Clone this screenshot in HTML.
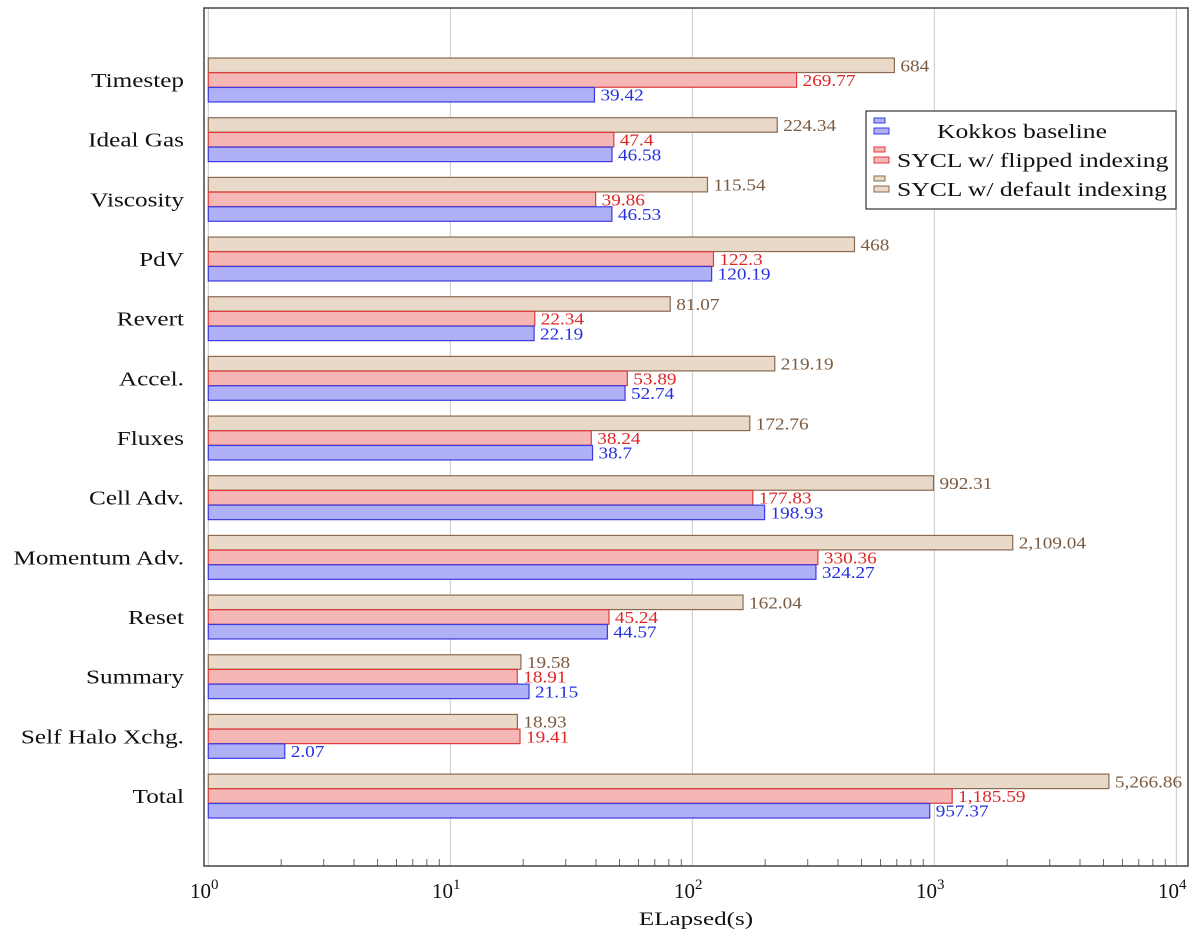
<!DOCTYPE html>
<html><head><meta charset="utf-8"><style>
body{margin:0;background:#fff;}
svg{display:block;font-family:"Liberation Serif",serif;}
</style></head><body>
<svg id="chart" width="1200" height="936"></svg>
<script>
const categories=["Timestep","Ideal Gas","Viscosity","PdV","Revert","Accel.","Fluxes","Cell Adv.","Momentum Adv.","Reset","Summary","Self Halo Xchg.","Total"];
const kokkos=[39.42,46.58,46.53,120.19,22.19,52.74,38.7,198.93,324.27,44.57,21.15,2.07,957.37];
const flipped=[269.77,47.4,39.86,122.3,22.34,53.89,38.24,177.83,330.36,45.24,18.91,19.41,1185.59];
const deflt=[684,224.34,115.54,468,81.07,219.19,172.76,992.31,2109.04,162.04,19.58,18.93,5266.86];
const xTicks=[0,1,2,3,4];
const NS="http://www.w3.org/2000/svg";
const svg=document.getElementById('chart');
const X0=208.3,DEC=242,L=204,R=1188,T=8,B=866;
const x=v=>X0+Math.log10(v)*DEC;
const rowY=i=>80+i*59.67;
function mk(tag,attrs,parent){const e=document.createElementNS(NS,tag);for(const k in attrs)e.setAttribute(k,attrs[k]);(parent||svg).appendChild(e);return e;}
function widen(t,f){const w=t.getComputedTextLength();t.setAttribute('textLength',w*f);t.setAttribute('lengthAdjust','spacingAndGlyphs');}
function fmt(v){return v.toLocaleString('en-US',{maximumFractionDigits:2});}
xTicks.forEach(t=>{const g=mk('line',{x1:x(10**t),x2:x(10**t),y1:T,y2:B,stroke:'#c8c8c8','stroke-width':1});

});
for(let d=0;d<4;d++)for(let m=2;m<10;m++){const xx=x(m*10**d);
const tk=mk('line',{x1:xx,x2:xx,y1:B,y2:B-7,stroke:'#444','stroke-width':0.8});

}
const series=[
 {name:'default',vals:deflt,fill:'#e8d9c9',stroke:'#8a6a50',tc:'#7a5a40',off:-14.7},
 {name:'flipped',vals:flipped,fill:'#f5b6b6',stroke:'#e03a3a',tc:'#e02525',off:0},
 {name:'kokkos',vals:kokkos,fill:'#b0b0f7',stroke:'#3a3ae0',tc:'#2530e0',off:14.7}];
const H=14.5;
categories.forEach((c,i)=>{
 const lab=mk('text',{x:184,y:rowY(i)+7,'text-anchor':'end','font-size':20,fill:'#111'});
 lab.textContent=c;
 widen(lab,1.26);
 
 
 series.forEach(s=>{
  const v=s.vals[i],cy=rowY(i)+s.off;
  const r=mk('rect',{x:X0,y:cy-H/2,width:x(v)-X0,height:H,fill:s.fill,stroke:s.stroke,'stroke-width':1.2});
  
  
  const t=mk('text',{x:x(v)+6,y:cy+6,'font-size':17,fill:s.tc});
  t.textContent=fmt(v);
  widen(t,1.13);
  
  
 });
});
const fr=mk('rect',{x:L,y:T,width:R-L,height:B-T,fill:'none',stroke:'#444','stroke-width':1.5});


xTicks.forEach(t=>{const tl=mk('text',{x:x(10**t)-4,y:898,'text-anchor':'middle','font-size':21,fill:'#111'});
tl.innerHTML='10<tspan dy="-9" font-size="15">'+t+'</tspan>';

});
const xt=mk('text',{x:696,y:925,'text-anchor':'middle','font-size':19,fill:'#111'});
xt.textContent='ELapsed(s)';
widen(xt,1.32);


const lg=mk('g',{});


mk('rect',{x:866,y:111,width:310,height:98,fill:'#fff',stroke:'#333','stroke-width':1.2},lg);
const leg=[['Kokkos baseline',series[2],'middle',1022],['SYCL w/ flipped indexing',series[1],'start',897],['SYCL w/ default indexing',series[0],'start',897]];
leg.forEach((l,j)=>{const cy=130+j*29;
 const e=mk('g',{},lg);
 
 
 mk('rect',{x:874,y:cy-12,width:11,height:5,fill:l[1].fill,stroke:l[1].stroke},e);
 mk('rect',{x:874,y:cy-2,width:15,height:6,fill:l[1].fill,stroke:l[1].stroke},e);
 const t=mk('text',{x:l[3],y:cy+8,'text-anchor':l[2],'font-size':20,fill:'#111'},e);
 t.textContent=l[0];
 widen(t,1.28);});
</script>
</body></html>
